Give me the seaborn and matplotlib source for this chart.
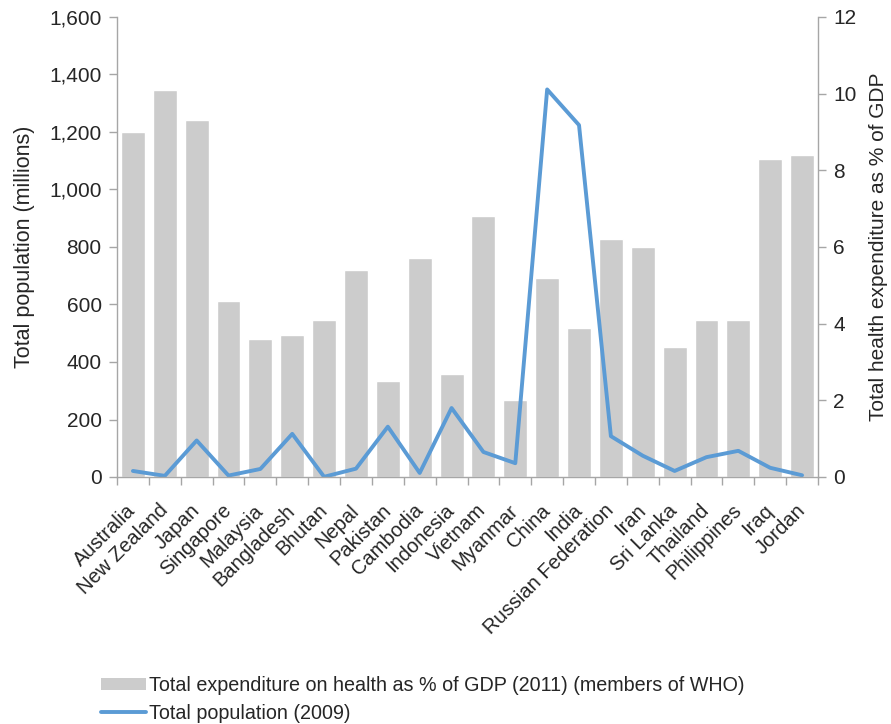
import matplotlib
matplotlib.use("Agg")
import matplotlib.pyplot as plt
import seaborn as sns
import pandas as pd
import numpy as np
from matplotlib.patches import Patch
from matplotlib.lines import Line2D
from matplotlib.ticker import FuncFormatter, FixedLocator

countries = ["Australia", "New Zealand", "Japan", "Singapore", "Malaysia", "Bangladesh",
             "Bhutan", "Nepal", "Pakistan", "Cambodia", "Indonesia", "Vietnam", "Myanmar",
             "China", "India", "Russian Federation", "Iran", "Sri Lanka", "Thailand",
             "Philippines", "Iraq", "Jordan"]
health_exp = [9.0, 10.1, 9.3, 4.6, 3.6, 3.7, 4.1, 5.4, 2.5, 5.7, 2.7, 6.8, 2.0,
              5.2, 3.9, 6.2, 6.0, 3.4, 4.1, 4.1, 8.3, 8.4]
population = [21, 4, 127, 5, 28, 150, 0.7, 29, 175, 14, 240, 87, 48,
              1348, 1224, 142, 74, 21, 69, 91, 32, 6]

bar_label = "Total expenditure on health as % of GDP (2011) (members of WHO)"
line_label = "Total population (2009)"

df = pd.DataFrame({"country": countries, "health": health_exp, "pop": population})

sns.set_style("white")
plt.rcParams["font.family"] = ["Liberation Sans", "DejaVu Sans"]
text_color = "#262626"
spine_color = "#a6a6a6"
bar_color = "#cccccc"
line_color = "#5b9bd5"

fig = plt.figure(figsize=(8.91, 7.24), dpi=100)
ax = fig.add_axes([117/891, 1-477/724, (818-117)/891, (477-17)/724])
ax2 = ax.twinx()

sns.barplot(data=df, x="country", y="health", ax=ax2, color=bar_color,
            width=0.75, saturation=1, order=countries)
sns.lineplot(x=np.arange(len(countries)), y=df["pop"].values, ax=ax,
             color=line_color, linewidth=2.8)

ax.set_zorder(ax2.get_zorder() + 1)
ax.patch.set_visible(False)

ax.set_xlim(-0.5, len(countries) - 0.5)
ax.set_ylim(0, 1600)
ax2.set_ylim(0, 12)
ax.set_yticks(np.arange(0, 1601, 200))
ax.yaxis.set_major_formatter(FuncFormatter(lambda v, p: f"{int(v):,}"))
ax2.set_yticks(np.arange(0, 13, 2))

ax.set_xticks(np.arange(len(countries)))
ax.set_xticklabels(countries, rotation=45, ha="right", va="center",
                   rotation_mode="anchor", fontsize=14.5, color=text_color)
ax.xaxis.set_minor_locator(FixedLocator(np.arange(-0.5, len(countries), 1)))
ax.tick_params(axis="x", which="major", length=0, pad=22)
ax.tick_params(axis="x", which="minor", length=6, color=spine_color, width=1, bottom=True)
ax.tick_params(axis="y", length=6, color=spine_color, width=1, labelsize=15,
               labelcolor=text_color, left=True, pad=5)
ax2.tick_params(axis="y", length=6, color=spine_color, width=1, labelsize=15,
                labelcolor=text_color, right=True, pad=5)
ax2.set_xlabel("")
ax.set_xlabel("")

ax.set_ylabel("Total population (millions)", fontsize=15.5, color=text_color, labelpad=10)
ax2.set_ylabel("Total health expenditure as % of GDP", fontsize=15,
               color=text_color, labelpad=9)

for a in (ax, ax2):
    a.spines["top"].set_visible(False)
    for s in ("left", "right", "bottom"):
        a.spines[s].set_color(spine_color)
        a.spines[s].set_linewidth(1)
ax.spines["right"].set_visible(False)
ax2.spines["left"].set_visible(False)
ax2.spines["bottom"].set_visible(False)

handles = [Patch(facecolor=bar_color, edgecolor="none"),
           Line2D([0], [0], color=line_color, linewidth=2.8)]
fig.legend(handles, [bar_label, line_label], loc="upper left",
           bbox_to_anchor=(101/891, 1-676/724), frameon=False, fontsize=14.2,
           handlelength=2.3, handleheight=0.6, handletextpad=0.15, labelspacing=0.45,
           labelcolor=text_color, borderaxespad=0, borderpad=0)

fig.savefig("out.png", dpi=100)
